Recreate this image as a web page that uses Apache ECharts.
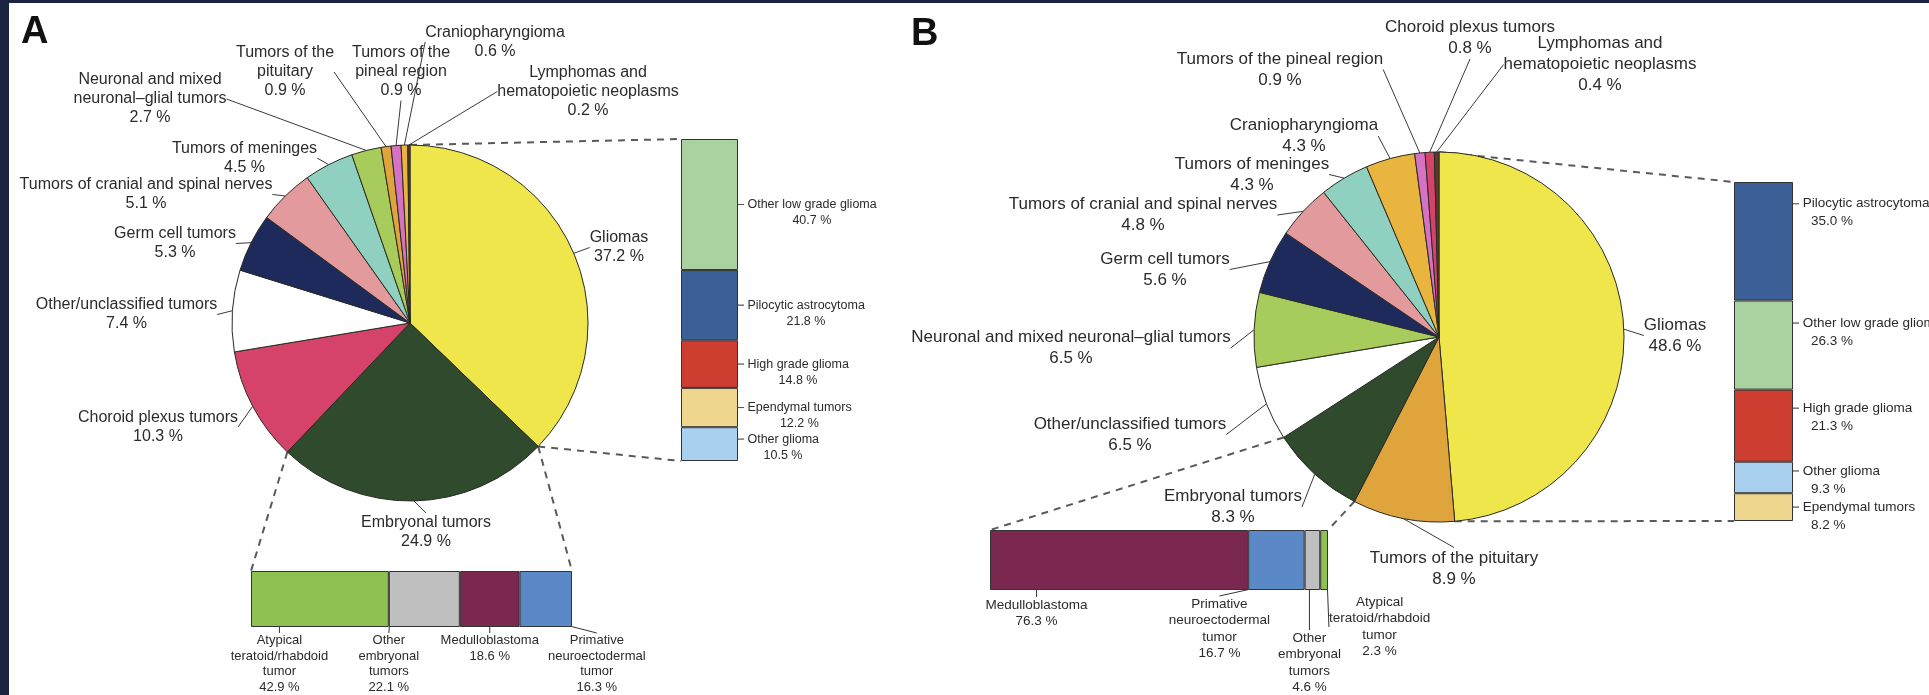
<!DOCTYPE html>
<html>
<head>
<meta charset="utf-8">
<script src="https://cdn.jsdelivr.net/npm/echarts@6/dist/echarts.min.js"></script>
<style>
  html, body { margin: 0; padding: 0; background: #fff; }
  #chart { width: 1929px; height: 695px; }
</style>
</head>
<body>
<div id="chart"></div>
<script>
// ---- panel A : all tumours ----
const pieANames = ['Gliomas', 'Embryonal tumors', 'Choroid plexus tumors', 'Other/unclassified tumors',
  'Germ cell tumors', 'Tumors of cranial and spinal nerves', 'Tumors of meninges',
  'Neuronal and mixed\nneuronal–glial tumors', 'Tumors of the\npituitary', 'Tumors of the\npineal region',
  'Craniopharyngioma', 'Lymphomas and\nhematopoietic neoplasms']
const pieAValues = [37.2, 24.9, 10.3, 7.4, 5.3, 5.1, 4.5, 2.7, 0.9, 0.9, 0.6, 0.2]

const gliomaANames = ['Other low grade glioma', 'Pilocytic astrocytoma', 'High grade glioma', 'Ependymal tumors', 'Other glioma']
const gliomaAValues = [40.7, 21.8, 14.8, 12.2, 10.5]

const embryoANames = ['Atypical\nteratoid/rhabdoid\ntumor', 'Other\nembryonal\ntumors', 'Medulloblastoma', 'Primative\nneuroectodermal\ntumor']
const embryoAValues = [42.9, 22.1, 18.6, 16.3]

// ---- panel B ----
const pieBNames = ['Gliomas', 'Tumors of the pituitary', 'Embryonal tumors', 'Other/unclassified tumors',
  'Neuronal and mixed neuronal–glial tumors', 'Germ cell tumors', 'Tumors of cranial and spinal nerves',
  'Tumors of meninges', 'Craniopharyngioma', 'Tumors of the pineal region', 'Choroid plexus tumors',
  'Lymphomas and\nhematopoietic neoplasms']
const pieBValues = [48.6, 8.9, 8.3, 6.5, 6.5, 5.6, 4.8, 4.3, 4.3, 0.9, 0.8, 0.4]

const gliomaBNames = ['Pilocytic astrocytoma', 'Other low grade glioma', 'High grade glioma', 'Other glioma', 'Ependymal tumors']
const gliomaBValues = [35.0, 26.3, 21.3, 9.3, 8.2]

const embryoBNames = ['Medulloblastoma', 'Primative\nneuroectodermal\ntumor', 'Other\nembryonal\ntumors', 'Atypical\nteratoid/rhabdoid\ntumor']
const embryoBValues = [76.3, 16.7, 4.6, 2.3]

// colours, one per tumour type
const colorOf = {
  'Gliomas': '#efe64b',
  'Embryonal tumors': '#2f4a2c',
  'Choroid plexus tumors': '#d5436a',
  'Other/unclassified tumors': '#ffffff',
  'Germ cell tumors': '#1f2a5c',
  'Tumors of cranial and spinal nerves': '#e39a9c',
  'Tumors of meninges': '#8fd0c0',
  'Neuronal and mixed neuronal–glial tumors': '#a8cc5c',
  'Tumors of the pituitary': '#e0a43c',
  'Tumors of the pineal region': '#d672c4',
  'Craniopharyngioma': '#eab53e',
  'Lymphomas and hematopoietic neoplasms': '#5a3a2c',
  'Other low grade glioma': '#a8d3a0',
  'Pilocytic astrocytoma': '#3b5f96',
  'High grade glioma': '#cd3e31',
  'Ependymal tumors': '#eed68e',
  'Other glioma': '#aad0ef',
  'Atypical teratoid/rhabdoid tumor': '#8dc152',
  'Other embryonal tumors': '#bfbfbf',
  'Medulloblastoma': '#7a2850',
  'Primative neuroectodermal tumor': '#5b89c8'
}

// label placement (layout only)
const pieALabelAt = [[619, 247.5], [426, 532], [158, 427], [126.5, 314.5], [175, 243.5], [146, 194.5],
  [244.5, 158], [150, 99], [285, 72], [401, 72], [495, 42], [588, 91.5]]
const pieBLabelAt = [[1675, 335.5], [1454, 568.5], [1233, 507], [1130, 434.5], [1071, 348], [1165, 269.5],
  [1143, 215], [1252, 174.5], [1304, 136], [1280, 69.5], [1470, 38], [1600, 64.5]]
const gliomaATick = [0, 0, 0, 0, -5]
const gliomaBTick = [-37.5, -22, -17.5, -6.5, 0]
const embryoAShift = [[-40.5, 6], [-35.5, 6], [0, 6], [51, 6]]
const embryoBShift = [[-82.5, 7], [-57, 6], [-3, 40], [55.5, 4]]

const FONT = '"Liberation Sans", Arial, Helvetica, sans-serif'
const TXT = '#2b2b2b'
const key = s => s.replace(/\n/g, ' ')
const sum = a => a.reduce((s, v) => s + v, 0)

function pieSeries(names, values, center, radius, labelAt, fontSize, lineHeight) {
  return {
    type: 'pie',
    center: center,
    radius: radius,
    startAngle: 90,
    clockwise: true,
    avoidLabelOverlap: false,
    silent: true,
    data: names.map((n, i) => ({ name: n, value: values[i], itemStyle: { color: colorOf[key(n)] } })),
    itemStyle: { borderColor: '#2a2a22', borderWidth: 1 },
    label: {
      show: true, position: 'outside', fontFamily: FONT, fontSize: fontSize, lineHeight: lineHeight, color: TXT,
      formatter: p => p.name + '\n' + p.value.toFixed(1) + ' %'
    },
    labelLine: { show: true, length: 6, length2: 0, lineStyle: { color: '#3a3a3a', width: 1 } },
    labelLayout: p => ({ x: labelAt[p.dataIndex][0], y: labelAt[p.dataIndex][1], align: 'center', verticalAlign: 'middle' })
  }
}

function verticalStack(names, values, g, stack, fontSize, lh, ticks, valueRich) {
  return names.map((n, i) => ({
    type: 'bar', name: n, stack: stack, xAxisIndex: g, yAxisIndex: g, barWidth: '100%', silent: true,
    data: [values[i]],
    itemStyle: { color: colorOf[key(n)], borderColor: '#333', borderWidth: 1 },
    label: {
      show: true, position: 'right', fontFamily: FONT, fontSize: fontSize, lineHeight: lh, color: TXT,
      formatter: () => '{t|}{n| ' + n + '}\n{v|' + values[i].toFixed(1) + ' %}',
      rich: { t: { width: 6, height: 0, borderColor: '#333', borderWidth: 0.6 }, n: {}, v: valueRich }
    },
    labelLayout: p => {
      const r = p.rect
      const top = Math.min(r.y, r.y + r.height)
      const h = Math.abs(r.height)
      return { x: Math.max(r.x, r.x + r.width), y: top + h / 2 + ticks[i] - lh / 2, align: 'left', verticalAlign: 'top' }
    }
  }))
}

function horizontalStack(names, values, g, stack, fontSize, lh, shift) {
  return names.map((n, i) => ({
    type: 'bar', name: n, stack: stack, xAxisIndex: g, yAxisIndex: g, barWidth: '100%', silent: true,
    data: [values[i]],
    itemStyle: { color: colorOf[key(n)], borderColor: '#333', borderWidth: 1 },
    label: {
      show: true, position: 'bottom', fontFamily: FONT, fontSize: fontSize, lineHeight: lh, color: TXT, align: 'center',
      formatter: () => n + '\n' + values[i].toFixed(1) + ' %'
    },
    labelLine: { show: true, length2: 0, lineStyle: { color: '#333', width: 1 } },
    labelLayout: p => {
      const r = p.rect
      const left = Math.min(r.x, r.x + r.width)
      const bottom = Math.max(r.y, r.y + r.height)
      return { x: left + Math.abs(r.width) / 2 + shift[i][0], y: bottom + shift[i][1], align: 'center', verticalAlign: 'top' }
    }
  }))
}

const chart = echarts.init(document.getElementById('chart'))

const option = {
  animation: false,
  backgroundColor: '#ffffff',
  grid: [
    { left: 681, top: 139, width: 57, height: 322 },
    { left: 251, top: 571, width: 321, height: 56 },
    { left: 1734, top: 182, width: 59, height: 339 },
    { left: 990, top: 530, width: 338, height: 60 }
  ],
  xAxis: [
    { gridIndex: 0, type: 'category', data: [''], show: false },
    { gridIndex: 1, type: 'value', min: 0, max: sum(embryoAValues), show: false },
    { gridIndex: 2, type: 'category', data: [''], show: false },
    { gridIndex: 3, type: 'value', min: 0, max: sum(embryoBValues), show: false }
  ],
  yAxis: [
    { gridIndex: 0, type: 'value', inverse: true, min: 0, max: sum(gliomaAValues), show: false },
    { gridIndex: 1, type: 'category', data: [''], show: false },
    { gridIndex: 2, type: 'value', inverse: true, min: 0, max: sum(gliomaBValues), show: false },
    { gridIndex: 3, type: 'category', data: [''], show: false }
  ],
  series: [
    pieSeries(pieANames, pieAValues, [410, 323], 178, pieALabelAt, 16, 19),
    pieSeries(pieBNames, pieBValues, [1439, 337], 185, pieBLabelAt, 17, 21),
    ...verticalStack(gliomaANames, gliomaAValues, 0, 'ga', 12.5, 16, gliomaATick, { align: 'center', padding: [0, 0, 0, 9] }),
    ...horizontalStack(embryoANames, embryoAValues, 1, 'ea', 13, 15.5, embryoAShift),
    ...verticalStack(gliomaBNames, gliomaBValues, 2, 'gb', 13.5, 18, gliomaBTick, { padding: [0, 0, 0, 18] }),
    ...horizontalStack(embryoBNames, embryoBValues, 3, 'eb', 13.5, 16.5, embryoBShift)
  ]
}
chart.setOption(option)

// dashed connectors from the pie slices to the breakdown bars
const model = chart.getModel()
function sliceEnds(seriesIndex, dataIndex) {
  const l = model.getSeriesByIndex(seriesIndex).getData().getItemLayout(dataIndex)
  const at = a => [l.cx + l.r * Math.cos(a), l.cy + l.r * Math.sin(a)]
  return { start: at(l.startAngle), end: at(l.endAngle) }
}
function barBox(first, count) {
  let x0 = Infinity, y0 = Infinity, x1 = -Infinity, y1 = -Infinity
  for (let s = first; s < first + count; s++) {
    const l = model.getSeriesByIndex(s).getData().getItemLayout(0)
    x0 = Math.min(x0, l.x, l.x + l.width); x1 = Math.max(x1, l.x, l.x + l.width)
    y0 = Math.min(y0, l.y, l.y + l.height); y1 = Math.max(y1, l.y, l.y + l.height)
  }
  return { x0, y0, x1, y1 }
}
const dash = (a, b) => ({
  type: 'line', silent: true, z: 1,
  shape: { x1: a[0], y1: a[1], x2: b[0], y2: b[1] },
  style: { stroke: '#5a5a5a', lineWidth: 2, lineDash: [7, 6] }
})

const sA = 2
const sAe = sA + gliomaANames.length
const sB = sAe + embryoANames.length
const sBe = sB + gliomaBNames.length

const gA = sliceEnds(0, 0), eA = sliceEnds(0, 1)
const gB = sliceEnds(1, 0), eB = sliceEnds(1, 2)
const bA = barBox(sA, gliomaANames.length), hA = barBox(sAe, embryoANames.length)
const bB = barBox(sB, gliomaBNames.length), hB = barBox(sBe, embryoBNames.length)

chart.setOption({
  graphic: [
    dash(gA.start, [bA.x0, bA.y0]),
    dash(gA.end, [bA.x0, bA.y1]),
    dash(eA.end, [hA.x0, hA.y0]),
    dash(eA.start, [hA.x1, hA.y0]),
    dash(gB.start, [bB.x0, bB.y0]),
    dash(gB.end, [bB.x0, bB.y1]),
    dash(eB.end, [hB.x0, hB.y0]),
    dash(eB.start, [hB.x1, hB.y0]),
    { type: 'text', silent: true, style: { text: 'A', x: 21, y: 33, font: 'bold 38px ' + FONT, fill: '#111', verticalAlign: 'middle' } },
    { type: 'text', silent: true, style: { text: 'B', x: 911, y: 35, font: 'bold 38px ' + FONT, fill: '#111', verticalAlign: 'middle' } },
    { type: 'rect', silent: true, z: 100, shape: { x: 0, y: 0, width: 9, height: 695 }, style: { fill: '#1b2541' } },
    { type: 'rect', silent: true, z: 100, shape: { x: 0, y: 0, width: 1929, height: 3 }, style: { fill: '#1b2541' } }
  ]
})
</script>
</body>
</html>
